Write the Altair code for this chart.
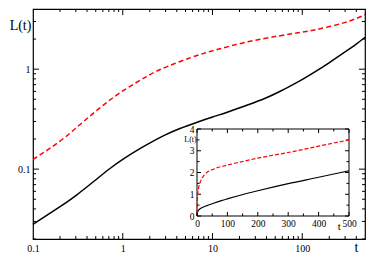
import altair as alt
import pandas as pd

# ---- data ----
t_black = [0.1, 0.2, 0.3, 0.5, 0.7, 1.0, 1.5, 2, 3, 4.3, 6.5, 10, 14, 25, 40, 57, 80, 102,
           136, 200, 300, 400, 500]
L_black = [0.028, 0.042, 0.054, 0.078, 0.100, 0.126, 0.158, 0.183, 0.222, 0.255, 0.291, 0.333,
           0.365, 0.44, 0.515, 0.60, 0.705, 0.796, 0.93, 1.16, 1.49, 1.78, 2.08]
t_red = [0.1, 0.15, 0.23, 0.35, 0.53, 0.8, 1.22, 1.86, 2.5, 6, 10.8, 24.8, 57, 100, 136, 200,
         300, 400, 500]
L_red = [0.125, 0.158, 0.208, 0.29, 0.397, 0.533, 0.68, 0.85, 0.985, 1.34, 1.56, 1.90, 2.17,
         2.34, 2.46, 2.66, 2.92, 3.21, 3.50]

main_x_labels = [0.1, 1, 10, 100]
main_y_labels = [0.1, 1]
main_x_major = [1, 10, 100]
main_x_minor = [m * 10.0 ** e for e in (-1, 0, 1) for m in range(2, 10)] + [200, 300, 400]
main_y_major = [0.1, 1]
main_y_minor = [m * 10.0 ** e for e in (-2, -1) for m in range(2, 10)] + [2, 3]

inset_x_labels = [0, 100, 200, 300, 400, 500]
inset_y_labels = [0, 1, 2, 3, 4]
inset_x_minor = [50, 150, 250, 350, 450]
inset_y_minor = [0.5, 1.5, 2.5, 3.5]

FONT = "Liberation Serif"

# ---- layout (pixels) ----
W, H = 332, 230
IX0, IX1, IY0, IY1 = 164, 316, 120, 207
MAJ, MIN = 6, 3
IMAJ, IMIN = 4, 2.5

blk = pd.DataFrame({"t": t_black, "L": L_black})
red = pd.DataFrame({"t": t_red, "L": L_red})

xs_main = alt.Scale(type="log", domain=[0.1, 500], nice=False)
ys_main = alt.Scale(type="log", domain=[0.02, 4], nice=False)

x_axis_main = alt.Axis(orient="bottom", values=main_x_labels, format="~g", ticks=False,
                       domain=False, grid=False, labelFont=FONT, labelFontSize=10,
                       labelColor="black", labelPadding=4, labelFlush=False, labelOverlap=False,
                       title="t", titleFont=FONT, titleFontSize=14, titleFontWeight="normal",
                       titleColor="black", titleX=323, titleY=8, titleAlign="center",
                       titleBaseline="middle")
y_axis_main = alt.Axis(orient="left", values=main_y_labels, format="~g", ticks=False,
                       domain=False, grid=False, labelFont=FONT, labelFontSize=10,
                       labelColor="black", labelPadding=3, labelFlush=False, labelOverlap=False,
                       title="L(t)", titleFont=FONT, titleFontSize=14, titleFontWeight="normal",
                       titleColor="black", titleAngle=0, titleX=-13, titleY=16,
                       titleAlign="center", titleBaseline="middle")


def xticks(vals, xs, ax, y0, y1):
    return alt.Chart(pd.DataFrame({"v": vals})).mark_rule(color="black", strokeWidth=1).encode(
        x=alt.X("v:Q", scale=xs, axis=ax), y=alt.value(y0), y2=alt.value(y1))


def yticks(vals, ys, ax, x0, x1):
    return alt.Chart(pd.DataFrame({"v": vals})).mark_rule(color="black", strokeWidth=1).encode(
        y=alt.Y("v:Q", scale=ys, axis=ax), x=alt.value(x0), x2=alt.value(x1))


main_black = alt.Chart(blk).mark_line(color="black", strokeWidth=1.5, interpolate="basis").encode(
    x=alt.X("t:Q", scale=xs_main, axis=x_axis_main),
    y=alt.Y("L:Q", scale=ys_main, axis=y_axis_main))
main_red = alt.Chart(red).mark_line(color="#ff0000", strokeWidth=1.5, strokeDash=[5, 3],
                                    interpolate="basis").encode(
    x=alt.X("t:Q", scale=xs_main, axis=x_axis_main),
    y=alt.Y("L:Q", scale=ys_main, axis=y_axis_main))

main = alt.layer(
    xticks(main_x_major, xs_main, x_axis_main, H, H - MAJ),
    xticks(main_x_minor, xs_main, x_axis_main, H, H - MIN),
    xticks(main_x_major, xs_main, x_axis_main, 0, MAJ),
    xticks(main_x_minor, xs_main, x_axis_main, 0, MIN),
    yticks(main_y_major, ys_main, y_axis_main, 0, MAJ),
    yticks(main_y_minor, ys_main, y_axis_main, 0, MIN),
    yticks(main_y_major, ys_main, y_axis_main, W, W - MAJ),
    yticks(main_y_minor, ys_main, y_axis_main, W, W - MIN),
    main_black, main_red,
)

# ---- inset ----
xs_in = alt.Scale(domain=[0, 500], range=[IX0, IX1], nice=False, zero=False)
ys_in = alt.Scale(domain=[0, 4], range=[IY1, IY0], nice=False, zero=False)

x_axis_in = alt.Axis(orient="bottom", offset=-(H - IY1), values=inset_x_labels, format="d",
                     ticks=False, domain=False, grid=False, labelFont=FONT, labelFontSize=9.5,
                     labelColor="black", labelPadding=2, labelFlush=False, labelOverlap=False,
                     title="t", titleFont=FONT, titleFontSize=11, titleFontWeight="normal",
                     titleColor="black", titleX=305.7, titleY=10.7, titleAlign="center",
                     titleBaseline="middle")
y_axis_in = alt.Axis(orient="left", offset=-IX0, values=inset_y_labels, format="d",
                     ticks=False, domain=False, grid=False, labelFont=FONT, labelFontSize=9.5,
                     labelColor="black", labelPadding=3, labelFlush=False, labelOverlap=False,
                     title="L(t)", titleFont=FONT, titleFontSize=8, titleFontWeight="normal",
                     titleColor="black", titleAngle=0, titleX=-7, titleY=130,
                     titleAlign="center", titleBaseline="middle")

frame = alt.Chart(pd.DataFrame({"x0": [0], "x1": [500], "y0": [0], "y1": [4]})).mark_rect(
    fill="white", stroke="black", strokeWidth=1).encode(
    x=alt.X("x0:Q", scale=xs_in, axis=x_axis_in), x2="x1",
    y=alt.Y("y0:Q", scale=ys_in, axis=y_axis_in), y2="y1")

in_black = alt.Chart(blk).mark_line(color="black", strokeWidth=1.2, interpolate="monotone").encode(
    x=alt.X("t:Q", scale=xs_in, axis=x_axis_in),
    y=alt.Y("L:Q", scale=ys_in, axis=y_axis_in))
in_red = alt.Chart(red).mark_line(color="#ff0000", strokeWidth=1.2, strokeDash=[4, 2],
                                  interpolate="monotone").encode(
    x=alt.X("t:Q", scale=xs_in, axis=x_axis_in),
    y=alt.Y("L:Q", scale=ys_in, axis=y_axis_in))

inset = alt.layer(
    frame,
    xticks(inset_x_labels, xs_in, x_axis_in, IY1, IY1 - IMAJ),
    xticks(inset_x_minor, xs_in, x_axis_in, IY1, IY1 - IMIN),
    xticks(inset_x_labels, xs_in, x_axis_in, IY0, IY0 + IMAJ),
    xticks(inset_x_minor, xs_in, x_axis_in, IY0, IY0 + IMIN),
    yticks(inset_y_labels, ys_in, y_axis_in, IX0, IX0 + IMAJ),
    yticks(inset_y_minor, ys_in, y_axis_in, IX0, IX0 + IMIN),
    yticks(inset_y_labels, ys_in, y_axis_in, IX1, IX1 - IMAJ),
    yticks(inset_y_minor, ys_in, y_axis_in, IX1, IX1 - IMIN),
    in_black, in_red,
)

chart = alt.layer(main, inset).resolve_scale(x="independent", y="independent").properties(
    width=W, height=H,
    autosize=alt.AutoSizeParams(type="none"),
    padding={"left": 25, "top": 1, "right": 1, "bottom": 15},
    background="white",
).configure_view(stroke="black", strokeWidth=1.2)

chart.save("out.html", embed_options={"renderer": "svg", "actions": False})
